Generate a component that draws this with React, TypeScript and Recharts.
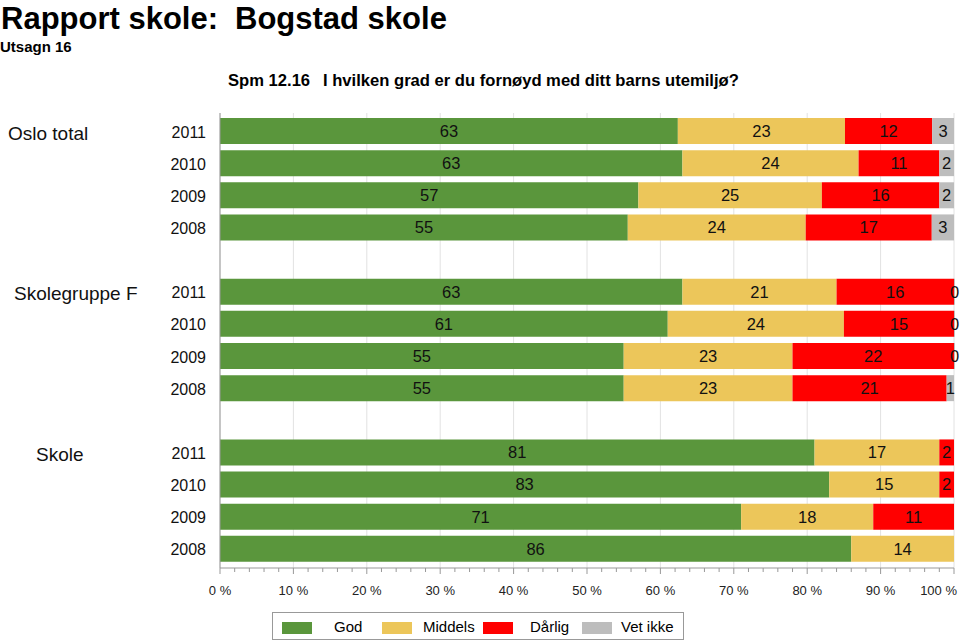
import React from 'react';
import { Bar, BarChart, CartesianGrid, LabelList, XAxis, YAxis } from 'recharts';

const FONT = "'Liberation Sans', Arial, Helvetica, sans-serif";

// data (percent per answer)
const groups = ['Oslo total', 'Skolegruppe F', 'Skole'];
const years = ['2011', '2010', '2009', '2008'];
const god = [63, 63, 57, 55, 63, 61, 55, 55, 81, 83, 71, 86];
const middels = [23, 24, 25, 24, 21, 24, 23, 23, 17, 15, 18, 14];
const darlig = [12, 11, 16, 17, 16, 15, 22, 21, 2, 2, 11, null];
const vetIkke = [3, 2, 2, 3, 0, 0, 0, 1, null, null, null, null];

const majorTicks = [0, 0.1, 0.2, 0.3, 0.4, 0.5, 0.6, 0.7, 0.8, 0.9, 1];
const minorTicks = Array.from({ length: 51 }, (_, i) => i / 50);

const SERIES = [
  { key: 'god', name: 'God', color: '#5a963c' },
  { key: 'middels', name: 'Middels', color: '#ecc65a' },
  { key: 'darlig', name: 'Dårlig', color: '#ff0000' },
  { key: 'vetIkke', name: 'Vet ikke', color: '#bdbdbd' },
];

// layout
const PLOT_TOP = 113;
const PLOT_BOTTOM = 568;
const GROUP_X = [8, 14, 36];
const LEGEND_SWATCH_X = [9, 109, 210, 309];
const LEGEND_TEXT_X = [61, 150, 257, 348];

type Row = { key: string; group?: string; year?: string; gi?: number; first?: boolean; [k: string]: any };

const rows: Row[] = [];
groups.forEach((g, gi) => {
  if (gi > 0) rows.push({ key: `gap${gi}` });
  years.forEach((y, yi) => {
    const i = gi * years.length + yi;
    rows.push({
      key: `${g} ${y}`,
      group: g,
      year: y,
      gi,
      first: yi === 0,
      god: god[i],
      middels: middels[i],
      darlig: darlig[i],
      vetIkke: vetIkke[i],
    });
  });
});
const rowByKey: Record<string, Row> = Object.fromEntries(rows.map((r) => [r.key, r]));

// zero answers still get a hairline so their "0" label is drawn
const zeroSize = (key: string) => (_v: any, index: number) => (rows[index] && rows[index][key] === 0 ? 1 : 0);

function YTick(props: any) {
  const { y, payload } = props;
  const row = rowByKey[payload.value];
  if (!row || !row.year) return <g />;
  return (
    <g fontFamily={FONT} fill="#111">
      <text x={206} y={y + 1} textAnchor="end" dominantBaseline="central" fontSize={16}>
        {row.year}
      </text>
      {row.first && (
        <text x={GROUP_X[row.gi as number]} y={y + 2} dominantBaseline="central" fontSize={19}>
          {row.group}
        </text>
      )}
    </g>
  );
}

function XTick(props: any) {
  const { x, payload } = props;
  const pct = Math.round(payload.value * 100);
  const major = pct % 10 === 0;
  const last = pct === 100;
  return (
    <g>
      <line x1={x} x2={x} y1={PLOT_BOTTOM} y2={PLOT_BOTTOM + (major ? 6 : 4)} stroke="#999" />
      {major && (
        <text
          x={last ? x + 3 : x}
          y={595}
          textAnchor={last ? 'end' : 'middle'}
          fontSize={13}
          fontFamily={FONT}
          fill="#222"
        >
          {pct} %
        </text>
      )}
    </g>
  );
}

export default function App() {
  return (
    <div style={{ position: 'absolute', left: 0, top: 0, width: 960, height: 643, background: '#fff', fontFamily: FONT }}>
      <svg width={960} height={110} style={{ position: 'absolute', left: 0, top: 0 }}>
        <g fontFamily={FONT} fontWeight="bold" fill="#000">
          <text x={1} y={28.5} fontSize={31}>Rapport skole:</text>
          <text x={235} y={28.5} fontSize={31}>Bogstad skole</text>
          <text x={0} y={52} fontSize={15}>Utsagn 16</text>
          <text x={228} y={86} fontSize={16.6}>Spm 12.16</text>
          <text x={323} y={86} fontSize={16.6}>I hvilken grad er du fornøyd med ditt barns utemiljø?</text>
        </g>
      </svg>
      <div style={{ position: 'absolute', left: 0, top: 0 }}>
        <BarChart
          width={960}
          height={643}
          data={rows}
          layout="vertical"
          stackOffset="expand"
          margin={{ top: PLOT_TOP, right: 6, left: 0, bottom: 643 - PLOT_BOTTOM - 30 }}
        >
          <CartesianGrid horizontal={false} verticalValues={majorTicks} stroke="#e2e2e2" />
          <XAxis
            type="number"
            domain={[0, 1]}
            ticks={minorTicks}
            interval={0}
            height={30}
            tick={XTick}
            tickLine={false}
            axisLine={{ stroke: '#999' }}
          />
          <XAxis
            xAxisId="top"
            orientation="top"
            type="number"
            domain={[0, 1]}
            height={0}
            tick={false}
            tickLine={false}
            axisLine={{ stroke: '#999' }}
          />
          <YAxis
            type="category"
            dataKey="key"
            width={220}
            interval={0}
            padding={{ top: 2, bottom: 3 }}
            tick={YTick}
            tickLine={false}
            axisLine={{ stroke: '#999' }}
          />
          <YAxis
            yAxisId="right"
            orientation="right"
            type="category"
            dataKey="key"
            width={0}
            tick={false}
            tickLine={false}
            axisLine={{ stroke: '#999' }}
          />
          {SERIES.map((s) => (
            <Bar
              key={s.key}
              dataKey={s.key}
              name={s.name}
              stackId="a"
              fill={s.color}
              barSize={26}
              minPointSize={zeroSize(s.key)}
              isAnimationActive={false}
            >
              <LabelList
                dataKey={s.key}
                position="center"
                fill="#111"
                fontSize={16.5}
                fontFamily={FONT}
                style={{ fontSize: 16.5 }}
              />
            </Bar>
          ))}
        </BarChart>
      </div>
      <div
        style={{
          position: 'absolute',
          left: 272,
          top: 612,
          width: 412,
          height: 28,
          border: '1px solid #999',
          boxSizing: 'border-box',
        }}
      >
        {SERIES.map((s, i) => (
          <React.Fragment key={s.key}>
            <div
              style={{
                position: 'absolute',
                left: LEGEND_SWATCH_X[i],
                top: 9,
                width: 30,
                height: 12,
                background: s.color,
              }}
            />
            <div
              style={{
                position: 'absolute',
                left: LEGEND_TEXT_X[i],
                top: 5,
                fontSize: 15,
                lineHeight: '18px',
                color: '#000',
                whiteSpace: 'nowrap',
              }}
            >
              {s.name}
            </div>
          </React.Fragment>
        ))}
      </div>
    </div>
  );
}
